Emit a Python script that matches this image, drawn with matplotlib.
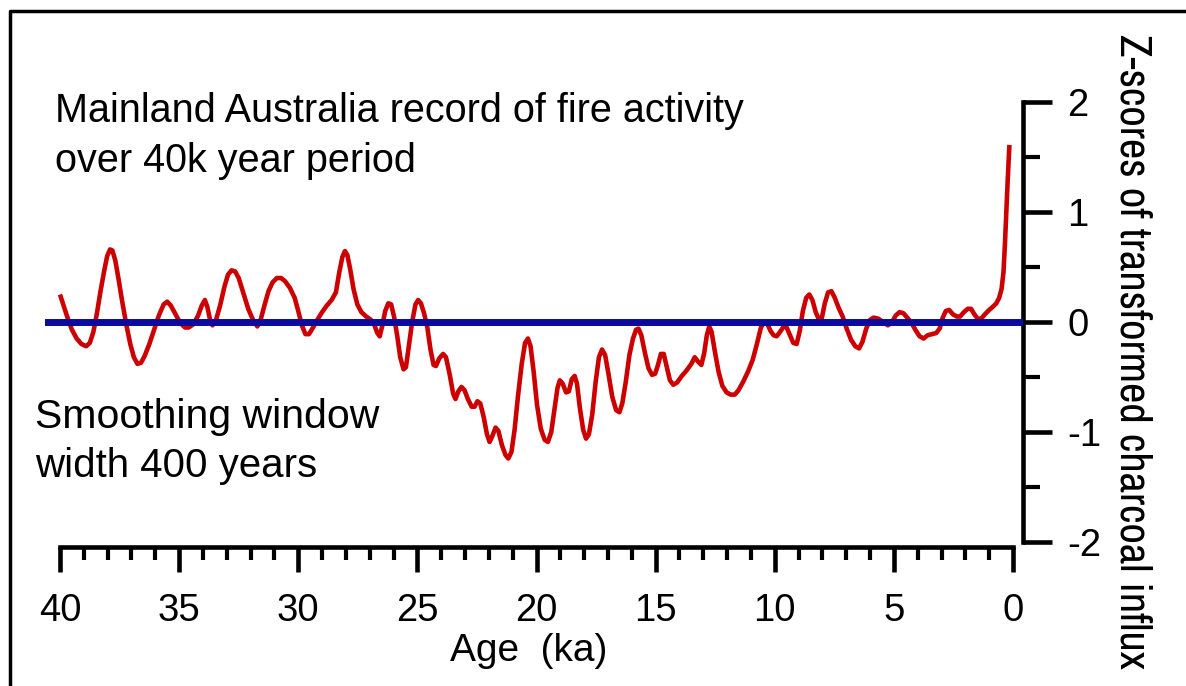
import matplotlib
matplotlib.use("Agg")
from matplotlib import pyplot as plt
from matplotlib import font_manager
from matplotlib.lines import Line2D

# charcoal z-scores (age in ka, oldest first)
age = [40.00, 39.85, 39.70, 39.50, 39.30, 39.10, 38.90, 38.75, 38.60, 38.45,
       38.30, 38.15, 38.02, 37.90, 37.80, 37.68, 37.55, 37.40, 37.22, 37.05,
       36.90, 36.75, 36.60, 36.45, 36.25, 36.05, 35.85, 35.65, 35.50, 35.35,
       35.15, 34.95, 34.75, 34.60, 34.40, 34.20, 34.05, 33.92, 33.82, 33.70,
       33.60, 33.45, 33.28, 33.10, 32.95, 32.80, 32.65, 32.50, 32.30, 32.10,
       31.90, 31.72, 31.58, 31.42, 31.25, 31.08, 30.90, 30.72, 30.55, 30.35,
       30.15, 30.00, 29.85, 29.70, 29.55, 29.38, 29.20, 29.00, 28.80, 28.60,
       28.42, 28.28, 28.15, 28.04, 27.94, 27.82, 27.68, 27.52, 27.35, 27.15,
       26.95, 26.80, 26.68, 26.58, 26.48, 26.35, 26.22, 26.10, 25.98, 25.85,
       25.72, 25.58, 25.48, 25.36, 25.22, 25.08, 24.97, 24.85, 24.72, 24.58,
       24.45, 24.32, 24.22, 24.08, 23.92, 23.80, 23.65, 23.50, 23.40, 23.28,
       23.15, 23.02, 22.88, 22.72, 22.60, 22.48, 22.36, 22.22, 22.08, 21.97,
       21.86, 21.72, 21.60, 21.45, 21.30, 21.18, 21.05, 20.92, 20.78, 20.62,
       20.48, 20.36, 20.25, 20.12, 19.98, 19.82, 19.66, 19.52, 19.38, 19.25,
       19.12, 19.02, 18.90, 18.76, 18.64, 18.52, 18.40, 18.30, 18.18, 18.04,
       17.92, 17.80, 17.66, 17.52, 17.38, 17.25, 17.12, 16.98, 16.82, 16.66,
       16.52, 16.40, 16.25, 16.10, 15.95, 15.82, 15.72, 15.60, 15.45, 15.30,
       15.15, 15.02, 14.90, 14.78, 14.66, 14.54, 14.40, 14.26, 14.10, 13.90,
       13.70, 13.50, 13.36, 13.22, 13.08, 12.96, 12.85, 12.75, 12.65, 12.52,
       12.36, 12.20, 12.02, 11.85, 11.68, 11.52, 11.32, 11.12, 10.92, 10.75,
       10.58, 10.45, 10.32, 10.18, 10.05, 9.92, 9.78, 9.62, 9.50, 9.36,
       9.22, 9.08, 8.95, 8.82, 8.68, 8.55, 8.42, 8.28, 8.14, 8.02,
       7.90, 7.76, 7.62, 7.48, 7.32, 7.15, 6.98, 6.80, 6.62, 6.46,
       6.32, 6.16, 6.00, 5.85, 5.65, 5.45, 5.25, 5.08, 4.92, 4.76,
       4.60, 4.44, 4.28, 4.10, 3.92, 3.75, 3.58, 3.40, 3.22, 3.08,
       2.95, 2.82, 2.68, 2.52, 2.36, 2.22, 2.06, 1.90, 1.76, 1.62,
       1.48, 1.34, 1.18, 1.00, 0.84, 0.70, 0.58, 0.48, 0.40, 0.34,
       0.28, 0.22, 0.15]
zscore = [0.25, 0.15, 0.05, -0.07, -0.15, -0.20, -0.22, -0.19, -0.09, 0.08,
          0.28, 0.46, 0.60, 0.66, 0.65, 0.56, 0.40, 0.20, -0.02, -0.20,
          -0.32, -0.38, -0.37, -0.31, -0.20, -0.07, 0.06, 0.16, 0.185, 0.15,
          0.07, -0.01, -0.05, -0.05, -0.02, 0.06, 0.15, 0.20, 0.14, 0.02,
          -0.03, 0.02, 0.15, 0.32, 0.43, 0.47, 0.46, 0.40, 0.26, 0.12,
          0.02, -0.04, 0.02, 0.15, 0.28, 0.36, 0.40, 0.40, 0.37, 0.31,
          0.22, 0.10, -0.03, -0.11, -0.11, -0.05, 0.02, 0.09, 0.15, 0.20,
          0.27, 0.45, 0.59, 0.645, 0.61, 0.48, 0.30, 0.16, 0.09, 0.05,
          0.02, -0.03, -0.10, -0.13, -0.04, 0.10, 0.17, 0.16, 0.05, -0.12,
          -0.32, -0.43, -0.41, -0.22, 0.00, 0.16, 0.20, 0.17, 0.08, -0.05,
          -0.25, -0.39, -0.40, -0.33, -0.29, -0.32, -0.47, -0.65, -0.70, -0.63,
          -0.59, -0.62, -0.70, -0.77, -0.77, -0.72, -0.74, -0.86, -1.02, -1.09,
          -1.04, -0.96, -0.99, -1.12, -1.21, -1.24, -1.18, -0.98, -0.68, -0.38,
          -0.19, -0.15, -0.22, -0.45, -0.75, -0.97, -1.07, -1.09, -1.00, -0.80,
          -0.60, -0.53, -0.56, -0.64, -0.63, -0.52, -0.49, -0.56, -0.78, -0.98,
          -1.06, -1.02, -0.84, -0.55, -0.32, -0.25, -0.30, -0.47, -0.68, -0.80,
          -0.82, -0.74, -0.54, -0.30, -0.15, -0.07, -0.06, -0.12, -0.28, -0.42,
          -0.48, -0.47, -0.39, -0.29, -0.29, -0.40, -0.53, -0.57, -0.55, -0.49,
          -0.44, -0.38, -0.32, -0.36, -0.39, -0.28, -0.12, -0.04, -0.09, -0.26,
          -0.45, -0.58, -0.64, -0.66, -0.66, -0.62, -0.54, -0.45, -0.34, -0.20,
          -0.05, 0.00, -0.01, -0.08, -0.12, -0.13, -0.09, -0.04, -0.05, -0.12,
          -0.19, -0.20, -0.08, 0.10, 0.22, 0.25, 0.20, 0.09, 0.02, 0.04,
          0.17, 0.27, 0.28, 0.22, 0.13, 0.05, -0.06, -0.16, -0.22, -0.24,
          -0.18, -0.06, 0.02, 0.04, 0.03, 0.00, -0.03, 0.00, 0.06, 0.09,
          0.08, 0.04, 0.00, -0.07, -0.13, -0.15, -0.12, -0.11, -0.10, -0.06,
          0.04, 0.10, 0.11, 0.07, 0.05, 0.05, 0.09, 0.12, 0.12, 0.07,
          0.03, 0.03, 0.07, 0.11, 0.14, 0.17, 0.22, 0.30, 0.45, 0.70,
          1.00, 1.30, 1.61]

x_major = [40, 35, 30, 25, 20, 15, 10, 5, 0]
y_major = [-2, -1, 0, 1, 2]

plt.rcParams['font.family'] = ['Liberation Sans', 'DejaVu Sans']

names = {f.name for f in font_manager.fontManager.ttflist}
narrow_font = "Archivo Narrow" if "Archivo Narrow" in names else "Liberation Sans"
narrow_size = 32.2 if narrow_font == "Archivo Narrow" else 27

fig = plt.figure(figsize=(11.86, 6.86), dpi=100)
ax = fig.add_axes([45/1186, 139/686, 978/1186, 445/686])

ax.plot(age, zscore, color="#cc0000", lw=3.3, solid_joinstyle="round",
        solid_capstyle="butt", zorder=2)
ax.axhline(0, color="#0a0a9c", lw=5.0, zorder=3)

ax.set_xlim(40.63, -0.42)
ax.set_ylim(-2.045, 2.0)

for s in ["top", "left"]:
    ax.spines[s].set_visible(False)
ax.spines["bottom"].set_bounds(0, 40)
ax.spines["right"].set_bounds(-2, 2)
for s in ["bottom", "right"]:
    ax.spines[s].set_linewidth(3.3)
    ax.spines[s].set_capstyle("projecting")

ax.set_xticks(x_major)
ax.set_xticks(range(0, 41), minor=True)
ax.set_xticklabels([str(v) for v in x_major])
ax.yaxis.tick_right()
ax.set_yticks(y_major)
ax.set_yticks([-1.5, -0.5, 0.5, 1.5], minor=True)
ax.set_yticklabels([str(v) for v in y_major])

ax.tick_params(axis="x", which="major", direction="out", length=18, width=3.3,
               labelsize=27.5, pad=15)
ax.tick_params(axis="x", which="minor", direction="out", length=9, width=3.0)
ax.tick_params(axis="y", which="major", direction="out", length=21, width=3.3,
               labelsize=27.5, pad=11)
ax.tick_params(axis="y", which="minor", direction="out", length=12, width=3.0)

ax.set_xlabel("Age  (ka)", fontsize=28)
ax.xaxis.set_label_coords(0.495, -0.194)

fig.text(1133/1186, 1 - 352/686, "Z-scores of transformed charcoal influx",
         rotation=270, ha="center", va="center", fontsize=narrow_size,
         family=[narrow_font, "DejaVu Sans"])

fig.text(55/1186, 1 - 122/686, "Mainland Australia record of fire activity",
         fontsize=28.5, va="baseline", ha="left")
fig.text(55/1186, 1 - 172/686, "over 40k year period",
         fontsize=28.5, va="baseline", ha="left")
fig.text(35/1186, 1 - 428/686, "Smoothing window",
         fontsize=29.5, va="baseline", ha="left")
fig.text(35/1186, 1 - 477/686, "width 400 years",
         fontsize=29, va="baseline", ha="left")

# outer frame (left and top edges)
fig.add_artist(Line2D([10/1186, 10/1186, 1.0], [0.0, 1 - 11/686, 1 - 11/686],
                      transform=fig.transFigure, color="black", lw=2.5))

fig.savefig("out.png", dpi=100)
